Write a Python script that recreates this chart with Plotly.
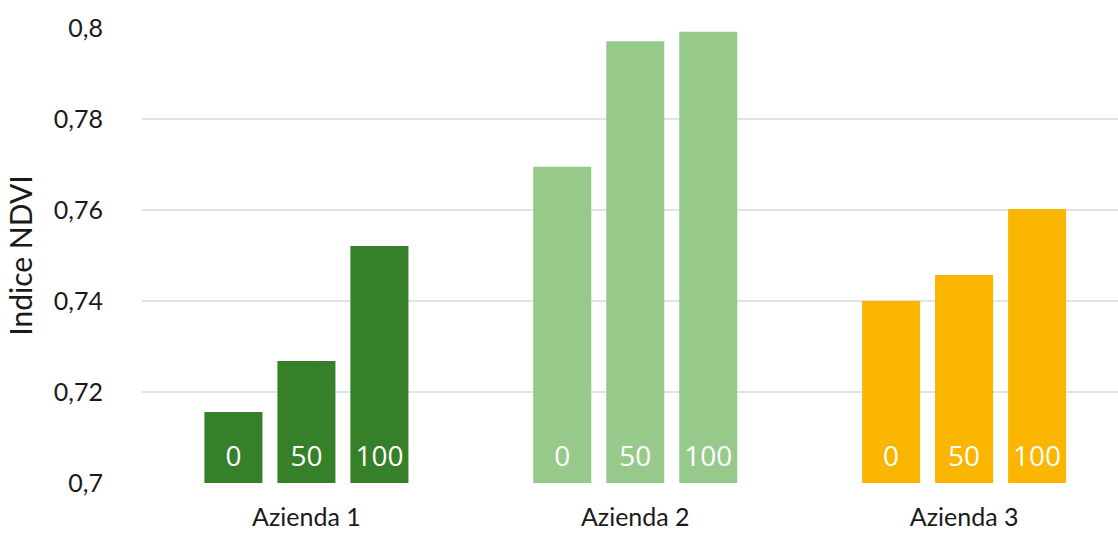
import plotly.graph_objects as go

aziende = ["Azienda 1", "Azienda 2", "Azienda 3"]
dosi = ["0", "50", "100"]
ndvi_0 = [0.7156, 0.7695, 0.7400]
ndvi_50 = [0.7268, 0.7971, 0.7457]
ndvi_100 = [0.7521, 0.7992, 0.7602]
colori_aziende = ["#358029", "#97C98B", "#F9B500"]
y_ticks = [0.70, 0.72, 0.74, 0.76, 0.78, 0.80]
y_tick_labels = ["0,7", "0,72", "0,74", "0,76", "0,78", "0,8"]
BASE = 0.7

serie = [ndvi_0, ndvi_50, ndvi_100]

fig = go.Figure()
for dose, valori in zip(dosi, serie):
    fig.add_trace(go.Bar(
        x=aziende,
        y=[v - BASE for v in valori],
        base=BASE,
        name=dose,
        marker=dict(color=colori_aziende, line=dict(width=0)),
        showlegend=False,
        hoverinfo="skip",
    ))

# dose labels at the foot of each bar
for dose, valori in zip(dosi, serie):
    fig.add_trace(go.Scatter(
        x=aziende,
        y=[BASE] * len(aziende),
        mode="markers+text",
        text=[dose] * len(aziende),
        textposition="top center",
        textfont=dict(family="Open Sans", size=28, color="white"),
        marker=dict(size=15, opacity=0),
        cliponaxis=False,
        showlegend=False,
        hoverinfo="skip",
    ))

fig.update_layout(
    width=1118, height=535,
    margin=dict(l=141.5, r=0, t=28, b=52),
    paper_bgcolor="white", plot_bgcolor="white",
    barmode="group",
    bargap=0.334, bargroupgap=0.205,
    scattermode="group", scattergap=0.334,
    font=dict(family="Lato", color="#1a1a1a"),
)
fig.update_xaxes(
    range=[-0.5, 2.468],
    showgrid=False, showline=False, zeroline=False,
    tickfont=dict(family="Lato", size=25, color="#1a1a1a"),
    ticks="", ticklabelstandoff=17, automargin=False,
)
fig.update_yaxes(
    range=[0.7, 0.8],
    tickvals=y_ticks, ticktext=y_tick_labels,
    showgrid=True, gridcolor="#e3e3e3", gridwidth=2,
    zeroline=False, showline=False, ticks="",
    tickfont=dict(family="Lato", size=25, color="#1a1a1a"),
    ticklabelstandoff=38, automargin=False,
    title=dict(text="Indice NDVI", font=dict(family="Lato", size=30, color="#1a1a1a"), standoff=12),
)

fig.write_html("out.html")
